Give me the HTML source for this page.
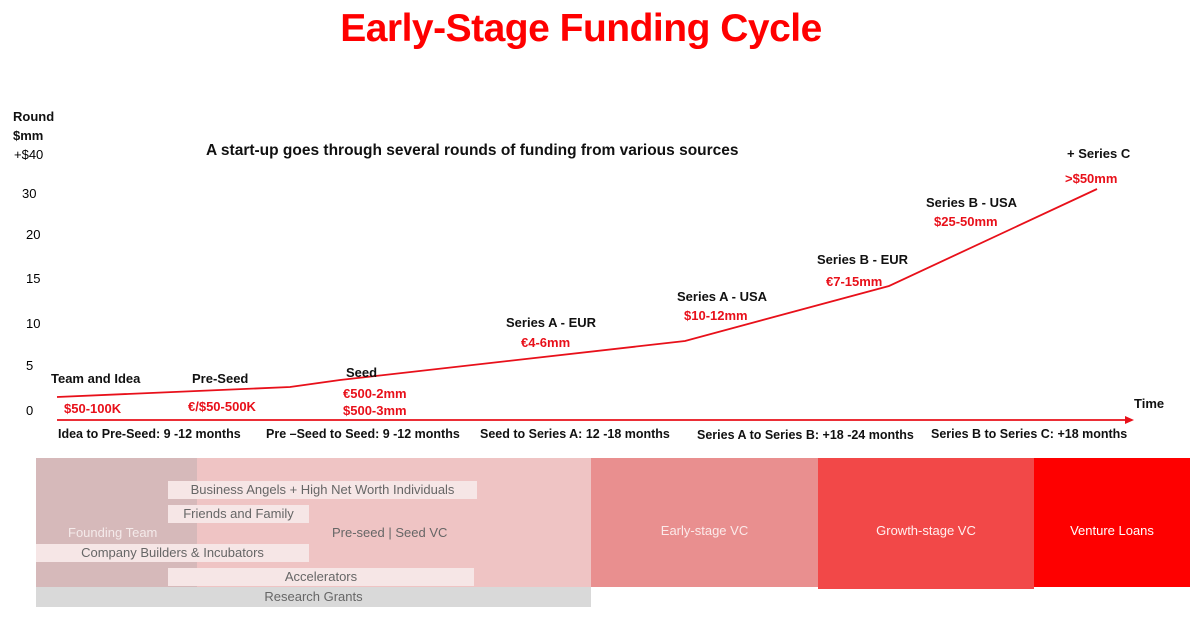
<!DOCTYPE html>
<html><head><meta charset="utf-8"><style>
body{margin:0;width:1200px;height:620px;background:#fff;position:relative;overflow:hidden;font-family:"Liberation Sans",sans-serif}
.a{position:absolute;white-space:nowrap}
.b{font-weight:bold;font-size:13px;color:#111}
.r{font-weight:bold;font-size:13px;color:#e8101a}
.box{position:absolute;}
.lab{position:absolute;font-size:13px;color:#666;text-align:center;line-height:18px}
</style></head><body>
<div class="a" style="left:0;width:1162px;text-align:center;top:7px;font-size:39px;font-weight:bold;color:#f00;letter-spacing:-0.5px">Early-Stage Funding Cycle</div>
<div class="a b" style="left:13px;top:109px">Round</div>
<div class="a b" style="left:13px;top:128px">$mm</div>
<div class="a" style="left:14px;top:147px;font-size:13px">+$40</div>
<div class="a" style="left:22px;top:186px;font-size:13px">30</div>
<div class="a" style="left:26px;top:227px;font-size:13px">20</div>
<div class="a" style="left:26px;top:271px;font-size:13px">15</div>
<div class="a" style="left:26px;top:316px;font-size:13px">10</div>
<div class="a" style="left:26px;top:358px;font-size:13px">5</div>
<div class="a" style="left:26px;top:403px;font-size:13px">0</div>
<div class="a b" style="left:206px;top:142px;font-size:15.5px">A start-up goes through several rounds of funding from various sources</div>
<svg class="a" style="left:0;top:0" width="1200" height="450">
<polyline points="57,397 290,387 340,380 685,341 889,286 1097,189" fill="none" stroke="#e8101a" stroke-width="1.8"/>
<line x1="57" y1="420" x2="1128" y2="420" stroke="#e8101a" stroke-width="1.8"/>
<polygon points="1134,420 1125,416 1125,424" fill="#e8101a"/>
</svg>
<div class="a b" style="left:51px;top:371px">Team and Idea</div>
<div class="a r" style="left:64px;top:401px">$50-100K</div>
<div class="a b" style="left:192px;top:371px">Pre-Seed</div>
<div class="a r" style="left:188px;top:399px">€/$50-500K</div>
<div class="a b" style="left:346px;top:365px">Seed</div>
<div class="a r" style="left:343px;top:386px">€500-2mm</div>
<div class="a r" style="left:343px;top:403px">$500-3mm</div>
<div class="a b" style="left:506px;top:315px">Series A - EUR</div>
<div class="a r" style="left:521px;top:335px">€4-6mm</div>
<div class="a b" style="left:677px;top:289px">Series A - USA</div>
<div class="a r" style="left:684px;top:308px">$10-12mm</div>
<div class="a b" style="left:817px;top:252px">Series B - EUR</div>
<div class="a r" style="left:826px;top:274px">€7-15mm</div>
<div class="a b" style="left:926px;top:195px">Series B - USA</div>
<div class="a r" style="left:934px;top:214px">$25-50mm</div>
<div class="a b" style="left:1067px;top:146px">+ Series C</div>
<div class="a r" style="left:1065px;top:171px">&gt;$50mm</div>
<div class="a b" style="left:1134px;top:396px">Time</div>
<div class="a b" style="left:58px;top:427px;font-size:12.5px">Idea to Pre-Seed: 9 -12 months</div>
<div class="a b" style="left:266px;top:427px;font-size:12.5px">Pre –Seed to Seed: 9 -12 months</div>
<div class="a b" style="left:480px;top:427px;font-size:12.5px">Seed to Series A: 12 -18 months</div>
<div class="a b" style="left:697px;top:428px;font-size:12.5px">Series A to Series B: +18 -24 months</div>
<div class="a b" style="left:931px;top:427px;font-size:12.5px">Series B to Series C: +18 months</div>

<div class="box" style="left:36px;top:458px;width:161px;height:129px;background:#d6b9ba"></div>
<div class="box" style="left:197px;top:458px;width:394px;height:129px;background:#efc4c4"></div>
<div class="box" style="left:591px;top:458px;width:227px;height:129px;background:#e98f8f"></div>
<div class="box" style="left:818px;top:458px;width:216px;height:131px;background:#f24848"></div>
<div class="box" style="left:1034px;top:458px;width:156px;height:129px;background:#fe0000"></div>
<div class="lab" style="left:36px;top:587px;width:555px;height:20px;background:#d9d9d9;line-height:20px">Research Grants</div>
<div class="lab" style="left:168px;top:481px;width:309px;background:#f6e6e6">Business Angels + High Net Worth Individuals</div>
<div class="lab" style="left:168px;top:505px;width:141px;background:#f6e6e6">Friends and Family</div>
<div class="lab" style="left:36px;top:544px;width:273px;background:#f6e6e6">Company Builders &amp; Incubators</div>
<div class="lab" style="left:168px;top:568px;width:306px;background:#f6e6e6">Accelerators</div>
<div class="lab" style="left:68px;top:524px;color:#f4eaea">Founding Team</div>
<div class="lab" style="left:332px;top:524px;color:#666">Pre-seed | Seed VC</div>
<div class="lab" style="left:591px;top:522px;width:227px;color:#fbeaea">Early-stage VC</div>
<div class="lab" style="left:818px;top:522px;width:216px;color:#fff0f0">Growth-stage VC</div>
<div class="lab" style="left:1034px;top:522px;width:156px;color:#fff">Venture Loans</div>
</body></html>
